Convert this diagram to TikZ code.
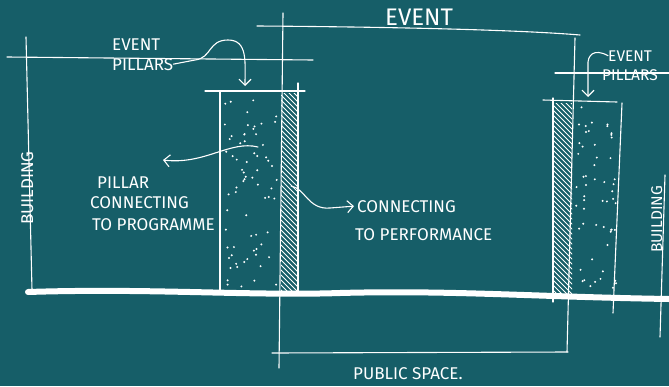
\documentclass[tikz,border=0pt]{standalone}
\usepackage{fontspec}
\setmainfont{Fira Sans}
\usetikzlibrary{arrows.meta}
\definecolor{board}{RGB}{22,94,104}

\begin{document}
\begin{tikzpicture}[x=1pt,y=-1pt,
  sketch/.style={draw=white, line width=1.1pt, line cap=round, line join=round},
  ground/.style={draw=white, line width=6pt, line cap=round},
  pointer/.style={sketch, -{Straight Barb[length=6pt,width=12pt]}},
  hatch/.style={draw=white, line width=0.9pt},
  lbl/.style={text=white, inner sep=0pt, anchor=base west},
  big/.style={lbl, font=\fontsize{24}{24}\selectfont},
  mid/.style={lbl, font=\fontsize{17}{17}\selectfont},
  small/.style={lbl, font=\fontsize{15.5}{15.5}\selectfont}]
\fill[board] (0,0) rectangle (669,386);
\useasboundingbox (0,0) rectangle (669,386);
% frame lines
\draw[sketch] (26,37) -- (32,290);
\draw[sketch] (7,57) -- (313,60);
\draw[sketch] (283,13) -- (279,368);
\draw[sketch] (257,26) .. controls (400,27) and (520,30) .. (580,35);
\draw[sketch] (575,38) -- (567,352);
\draw[sketch] (272,353) -- (568,352);
\draw[sketch] (555,73) -- (669,73);
\draw[sketch] (665,175) -- (660,337);
% left pillar
\draw[sketch] (205,91) -- (305,91);
\draw[sketch] (220,92) -- (220,290);
\draw[sketch] (298,83) -- (298,292);
\begin{scope}
\clip (281,93) rectangle (298,291);
\foreach \k in {60,65,...,300}
  \draw[hatch] (276,\k) -- (302,\k+26);
\end{scope}
\pgfmathsetseed{42}
\foreach \i in {1,...,70}{
  \pgfmathsetmacro\px{224+53*rnd}
  \pgfmathsetmacro\py{97+190*rnd}
  \fill[white] (\px,\py) circle[radius=1.1pt];
}
% right pillar
\draw[sketch] (543,100) -- (617,102);
\draw[sketch] (553,98) -- (553,302);
\draw[sketch] (622,103) -- (613,313);
\begin{scope}
\clip (553,103) rectangle (572,296);
\foreach \k in {70,75,...,310}
  \draw[hatch] (548,\k) -- (576,\k+28);
\end{scope}
\foreach \i in {1,...,55}{
  \pgfmathsetmacro\px{576+40*rnd}
  \pgfmathsetmacro\py{107+182*rnd}
  \fill[white] (\px,\py) circle[radius=1.1pt];
}
% ground
\draw[ground] (28,292) .. controls (150,288) and (250,296) .. (340,293)
  .. controls (450,290) and (540,297) .. (669,299);
% labels
\node[big] (txt0) at (385,25) {EVENT};
\node[mid] (txt1) at (112,50) {EVENT};
\node[mid] (txt2) at (112,70) {PILLARS};
\node[small] (txt3) at (608,61) {EVENT};
\node[small] (txt4) at (602,80) {PILLARS};
\node[mid] (txt5) at (97,188) {PILLAR};
\node[mid] (txt6) at (90,208) {CONNECTING};
\node[mid] (txt7) at (92,230) {TO PROGRAMME};
\node[mid] (txt8) at (357,212) {CONNECTING};
\node[mid] (txt9) at (355,240) {TO PERFORMANCE};
\node[mid] (txt10) at (353,379) {PUBLIC SPACE.};
\node[mid, rotate=90] (txt11) at (33,225) {BUILDING};
\node[small, rotate=90] (txt12) at (662,253) {BUILDING};
% arrows
\coordinate (ep0) at (245,86);
\coordinate (ep1) at (588,97);
\coordinate (sp2) at (258,147);
\coordinate (ep2) at (163,160);
\coordinate (sp3) at (291,186);
\draw[pointer] (txt2.east) -- (195,60) .. controls (212,58) and (208,40) .. (228,40)
  .. controls (248,40) and (245,62) .. (ep0);
\draw[pointer] (txt3.west) .. controls (594,48) and (587,55) .. (588,66) -- (ep1);
\draw[pointer] (sp2) .. controls (230,140) and (205,165) .. (ep2);
\draw[pointer] (sp3) .. controls (305,188) and (308,210) .. (330,208) -- ([xshift=-3pt]txt8.west);
\end{tikzpicture}
\end{document}
